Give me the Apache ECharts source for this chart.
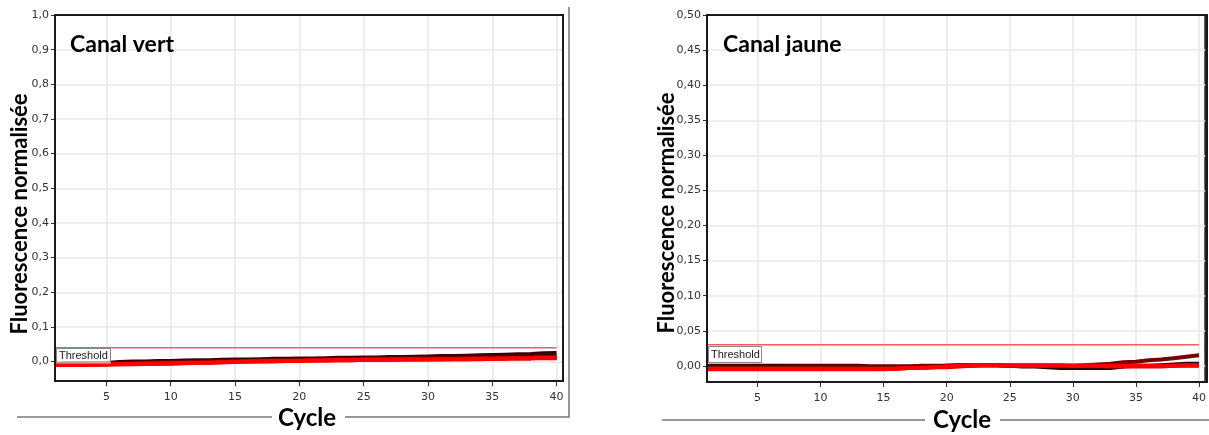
<!DOCTYPE html>
<html><head><meta charset="utf-8">
<script src="https://cdn.jsdelivr.net/npm/echarts@6/dist/echarts.min.js"></script>
<style>html,body{margin:0;padding:0;background:#fff}#c{width:1209px;height:435px}</style>
</head><body><div id="c"></div>
<script>
// ---- data ----
const cycles = [1,2,3,4,5,6,7,8,9,10,11,12,13,14,15,16,17,18,19,20,21,22,23,24,25,26,27,28,29,30,31,32,33,34,35,36,37,38,39,40];
const xTicks = [5,10,15,20,25,30,35,40];
const leftTitle = 'Canal vert';
const rightTitle = 'Canal jaune';
const yTitle = 'Fluorescence normalisée';
const xTitle = 'Cycle';
const leftYTicks = [0,0.1,0.2,0.3,0.4,0.5,0.6,0.7,0.8,0.9,1.0];
const rightYTicks = [0,0.05,0.10,0.15,0.20,0.25,0.30,0.35,0.40,0.45,0.50];
const leftThreshold = 0.04;
const rightThreshold = 0.03;

// Canal vert curves
const vertA = [-0.006,-0.005,-0.005,-0.005,-0.004,-0.001,0.000,0.000,0.002,0.002,0.003,0.004,0.004,0.005,0.006,0.006,0.007,0.008,0.008,0.009,0.009,0.010,0.011,0.011,0.012,0.012,0.013,0.013,0.014,0.015,0.016,0.016,0.017,0.018,0.019,0.020,0.021,0.022,0.024,0.025];
const vertB = [-0.008,-0.008,-0.007,-0.007,-0.006,-0.005,-0.004,-0.003,-0.002,-0.002,-0.001,0.000,0.000,0.001,0.002,0.002,0.003,0.004,0.004,0.005,0.005,0.006,0.007,0.007,0.008,0.008,0.008,0.009,0.009,0.010,0.010,0.010,0.011,0.011,0.011,0.012,0.012,0.012,0.013,0.013];
const vertC = [-0.009,-0.009,-0.008,-0.008,-0.007,-0.007,-0.006,-0.005,-0.004,-0.003,-0.003,-0.002,-0.001,0.000,0.000,0.001,0.002,0.003,0.003,0.004,0.004,0.005,0.005,0.006,0.006,0.007,0.007,0.007,0.008,0.008,0.008,0.008,0.009,0.009,0.009,0.010,0.010,0.010,0.011,0.011];
const vertD = [-0.010,-0.010,-0.010,-0.009,-0.009,-0.008,-0.008,-0.007,-0.006,-0.006,-0.005,-0.004,-0.003,-0.002,-0.001,0.000,0.000,0.001,0.002,0.002,0.003,0.003,0.004,0.004,0.005,0.005,0.005,0.006,0.006,0.006,0.006,0.007,0.007,0.007,0.008,0.008,0.009,0.009,0.010,0.010];
const vertE = [-0.010,-0.010,-0.009,-0.009,-0.008,-0.008,-0.007,-0.006,-0.006,-0.005,-0.004,-0.003,-0.003,-0.002,-0.001,0.000,0.001,0.001,0.002,0.002,0.003,0.003,0.004,0.004,0.005,0.005,0.005,0.006,0.006,0.006,0.007,0.007,0.007,0.008,0.008,0.009,0.010,0.010,0.011,0.011];

// Canal jaune curves
const jauneA = [-0.002,-0.002,-0.002,-0.002,-0.002,-0.002,-0.002,-0.001,-0.001,-0.001,-0.001,-0.001,-0.001,-0.001,-0.001,-0.001,-0.001,0.000,0.000,0.000,0.001,0.001,0.001,0.001,0.000,0.000,0.000,0.000,0.000,0.000,0.001,0.002,0.003,0.005,0.006,0.008,0.009,0.011,0.013,0.015];
const jauneB = [0.000,0.000,0.000,0.000,0.000,0.000,0.000,0.000,0.000,0.000,0.000,0.000,0.000,-0.001,-0.001,-0.001,-0.001,-0.001,-0.001,0.000,0.001,0.001,0.001,0.001,0.000,-0.001,-0.001,-0.002,-0.003,-0.003,-0.003,-0.003,-0.003,-0.001,0.000,0.000,0.001,0.002,0.003,0.003];
const jauneC = [-0.004,-0.004,-0.004,-0.004,-0.004,-0.004,-0.004,-0.004,-0.004,-0.004,-0.004,-0.004,-0.004,-0.004,-0.004,-0.004,-0.003,-0.003,-0.002,-0.002,-0.001,0.000,0.001,0.001,0.000,0.000,0.000,0.000,0.000,0.000,0.000,0.000,-0.001,-0.001,-0.001,-0.001,-0.001,0.000,0.000,0.000];
const jauneD = [-0.005,-0.005,-0.005,-0.005,-0.005,-0.005,-0.005,-0.005,-0.005,-0.005,-0.005,-0.005,-0.005,-0.005,-0.005,-0.004,-0.003,-0.003,-0.002,-0.001,0.000,0.001,0.001,0.001,0.001,0.001,0.001,0.001,0.001,0.000,0.000,0.000,0.000,0.000,0.000,0.000,0.000,0.000,0.001,0.001];

// ---- chart ----
const chart = echarts.init(document.getElementById('c'), null, {renderer:'canvas'});
const lab = (arr) => cycles.map((c,i)=>[c,arr[i]]);
const fmt1 = v => v.toFixed(1).replace('.', ',');
const fmt2 = v => v.toFixed(2).replace('.', ',');
const tickFont = {color:'#333', fontFamily:'"DejaVu Sans", Verdana, sans-serif', fontSize:11};
const gridLine = {show:true, lineStyle:{color:'#e9e9e9', width:1.5}};

function xAxis(idx){
  return {type:'value', gridIndex:idx, min:1, max:40.5,
    axisLine:{show:true, onZero:false, lineStyle:{color:'#111', width:2}},
    axisTick:{show:true, length:5, customValues:xTicks, lineStyle:{color:'#333'}},
    axisLabel:Object.assign({customValues:xTicks, margin:11}, tickFont),
    splitLine:gridLine};
}
function yAxis(idx, min, max, ticks, f){
  return {type:'value', gridIndex:idx, min:min, max:max,
    axisLine:{show:true, onZero:false, lineStyle:{color:'#111', width:2}},
    axisTick:{show:true, length:4, customValues:ticks, lineStyle:{color:'#333'}},
    axisLabel:Object.assign({customValues:ticks, margin:6, formatter:f}, tickFont),
    splitLine:gridLine};
}
function line(arr, color, xi, z){
  return {type:'line', xAxisIndex:xi, yAxisIndex:xi, data:lab(arr), showSymbol:false, symbol:'none',
    lineStyle:{color:color, width:4}, z:z, silent:true, animation:false};
}
function thr(v, xi){
  return {type:'line', xAxisIndex:xi, yAxisIndex:xi, data:[[1,v],[40,v]], showSymbol:false, symbol:'none',
    lineStyle:{color:'#ff5a5a', width:1.5}, z:10, silent:true, animation:false};
}
const titleFont = {fontFamily:'Lato, "Noto Sans", sans-serif', fontWeight:'bold', fill:'#000'};

chart.setOption({
  animation:false,
  grid:[
    {left:55, top:15, width:508, height:366, show:true, borderColor:'#222', borderWidth:2, backgroundColor:'#fff'},
    {left:707, top:15, width:500, height:367, show:true, borderColor:'#222', borderWidth:2, backgroundColor:'#fff'}
  ],
  xAxis:[xAxis(0), xAxis(1)],
  yAxis:[yAxis(0,-0.056,1.0,leftYTicks,fmt1), yAxis(1,-0.023,0.5,rightYTicks,fmt2)],
  series:[
    thr(leftThreshold,0),
    line(vertA,'#3d0000',0,3), line(vertB,'#6e0000',0,4), line(vertC,'#8e0000',0,5), line(vertD,'#d00000',0,6), line(vertE,'#ff0000',0,7),
    thr(rightThreshold,1),
    line(jauneB,'#2a0000',1,3), line(jauneA,'#7a0000',1,4), line(jauneC,'#e00000',1,5), line(jauneD,'#ff0000',1,6)
  ],
  graphic:[
    {type:'rect', z:50, shape:{x:55, y:15, width:508, height:366}, style:{fill:null, stroke:'#1a1a1a', lineWidth:2}},
    {type:'rect', z:50, shape:{x:707, y:15, width:500, height:367}, style:{fill:null, stroke:'#1a1a1a', lineWidth:2}},
    {type:'text', z:60, left:70, top:33, style:Object.assign({text:leftTitle, fontSize:23}, titleFont)},
    {type:'text', z:60, left:723, top:33, style:Object.assign({text:rightTitle, fontSize:23}, titleFont)},
    {type:'text', z:60, x:20, y:214, rotation:Math.PI/2, style:Object.assign({text:yTitle, fontSize:22, align:'center', verticalAlign:'middle'}, titleFont)},
    {type:'text', z:60, x:667, y:213, rotation:Math.PI/2, style:Object.assign({text:yTitle, fontSize:22, align:'center', verticalAlign:'middle'}, titleFont)},
    {type:'text', z:60, x:307, y:418, style:Object.assign({text:xTitle, fontSize:24, align:'center', verticalAlign:'middle'}, titleFont)},
    {type:'text', z:60, x:962, y:420, style:Object.assign({text:xTitle, fontSize:24, align:'center', verticalAlign:'middle'}, titleFont)},
    {type:'polyline', shape:{points:[[17,417],[272,417]]}, style:{stroke:'#777', lineWidth:1.5}},
    {type:'polyline', shape:{points:[[345,417],[569,417],[569,7]]}, style:{stroke:'#777', lineWidth:1.5}},
    {type:'polyline', shape:{points:[[662,420],[925,420]]}, style:{stroke:'#777', lineWidth:1.5}},
    {type:'polyline', shape:{points:[[1000,420],[1209,420]]}, style:{stroke:'#777', lineWidth:1.5}},
    {type:'rect', shape:{x:56.5, y:348.5, width:54, height:15}, style:{fill:'rgba(255,255,255,0.6)', stroke:'#888', lineWidth:1}, z:20},
    {type:'text', x:59, y:356, style:{text:'Threshold', fontSize:11, fontFamily:'Liberation Sans, Arial, sans-serif', fill:'#222', verticalAlign:'middle'}, z:21},
    {type:'rect', shape:{x:708.5, y:346.5, width:53, height:16}, style:{fill:'#fff', stroke:'#888', lineWidth:1}, z:20},
    {type:'text', x:711, y:355, style:{text:'Threshold', fontSize:11, fontFamily:'Liberation Sans, Arial, sans-serif', fill:'#222', verticalAlign:'middle'}, z:21}
  ]
});
</script></body></html>
